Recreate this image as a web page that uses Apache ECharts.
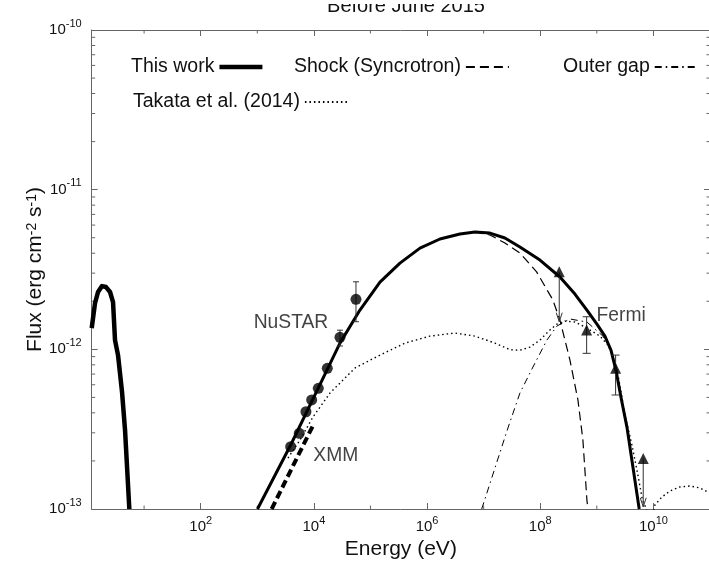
<!DOCTYPE html>
<html><head><meta charset="utf-8">
<script src="https://cdn.jsdelivr.net/npm/echarts@6/dist/echarts.min.js"></script>
<style>html,body{margin:0;padding:0;background:#fff}#c{width:709px;height:561px}</style>
</head><body><div id="c"></div>
<script>
// ---------- data (log10 of energy in eV, log10 of flux in erg cm^-2 s^-1) ----------
const titleText = 'Before June 2015';
const xLogMin = 0.074, xLogMax = 11;
const yLogMin = -13, yLogMax = -10;

// "This work" – low-energy component
const thisWorkLowLogE = [0.074, 0.133, 0.186, 0.256, 0.327, 0.398, 0.451, 0.486, 0.539, 0.610, 0.663, 0.739];
const thisWorkLowLogF = [-11.867, -11.710, -11.641, -11.604, -11.610, -11.641, -11.704, -11.942, -12.036, -12.267, -12.505, -13.000];
// "This work" – main component
const thisWorkLogE = [3.004, 3.590, 4.231, 4.461, 4.814, 5.168, 5.521, 5.875, 6.228, 6.581, 6.846, 7.111, 7.376, 7.641, 7.995, 8.348, 8.613, 8.825, 9.002, 9.143, 9.249, 9.337, 9.426, 9.532, 9.638, 9.749];
const thisWorkLogF = [-13.000, -12.599, -12.130, -11.961, -11.754, -11.579, -11.460, -11.366, -11.309, -11.278, -11.265, -11.272, -11.303, -11.359, -11.441, -11.547, -11.654, -11.754, -11.842, -11.917, -12.004, -12.130, -12.299, -12.487, -12.737, -13.000];
// Shock (synchrotron)
const shockLogE = [6.581, 6.846, 7.111, 7.376, 7.641, 7.936, 8.224, 8.348, 8.525, 8.666, 8.754, 8.825, 8.843];
const shockLogF = [-11.278, -11.265, -11.284, -11.334, -11.397, -11.515, -11.691, -11.817, -12.067, -12.317, -12.568, -12.944, -13.000];
// Outer gap
const outerGapLogE = [6.966, 7.200, 7.429, 7.641, 7.871, 8.118, 8.295, 8.525, 8.825, 9.108, 9.249, 9.337, 9.426, 9.532, 9.638, 9.746];
const outerGapLogF = [-13.000, -12.743, -12.493, -12.274, -12.111, -11.942, -11.854, -11.810, -11.829, -11.917, -12.004, -12.130, -12.299, -12.487, -12.737, -13.000];
// Takata et al. (2014)
const takataLogE = [3.542, 3.754, 3.984, 4.284, 4.726, 5.168, 5.610, 6.051, 6.493, 6.846, 7.200, 7.465, 7.641, 7.818, 7.995, 8.171, 8.295, 8.436, 8.613, 8.825, 9.055, 9.196, 9.302, 9.391, 9.497, 9.620, 9.726, 9.806, 9.876, 9.920, 10.027, 10.150, 10.292, 10.468, 10.645, 10.822, 10.998];
const takataLogF = [-12.681, -12.568, -12.424, -12.274, -12.117, -12.036, -11.961, -11.917, -11.898, -11.917, -11.961, -12.002, -12.006, -11.986, -11.942, -11.879, -11.842, -11.823, -11.829, -11.867, -11.917, -11.973, -12.055, -12.192, -12.411, -12.599, -12.787, -12.944, -13.000, -13.130, -12.975, -12.925, -12.887, -12.862, -12.856, -12.868, -12.900];
// XMM spectrum (thick dashed)
const xmmLineLogE = [3.254, 3.989];
const xmmLineLogF = [-13.000, -12.474];

// X-ray points (XMM / NuSTAR)
const xrayLogE = [3.590, 3.742, 3.860, 3.961, 4.078, 4.237, 4.461, 4.744];
const xrayLogF = [-12.610, -12.526, -12.391, -12.317, -12.244, -12.119, -11.925, -11.687];
const xrayErrLogE = [4.461, 4.744];
const xrayErrLo = [-11.979, -11.827];
const xrayErrHi = [-11.880, -11.577];

// Fermi points
const fermiLogE = [8.336, 8.820, 9.332, 9.820];
const fermiLogF = [-11.514, -11.879, -12.119, -12.683];
const fermiErrLogE = [8.820, 9.332];
const fermiErrLo = [-12.025, -12.286];
const fermiErrHi = [-11.796, -12.036];
// Fermi upper limits (arrow from value down to tip)
const ulLogE = [8.336, 9.820];
const ulFrom = [-11.514, -12.683];
const ulTo = [-11.827, -12.986];

// annotations
const noteText = ['NuSTAR', 'XMM', 'Fermi'];
const noteLogE = [3.595, 4.387, 9.431];
const noteLogF = [-11.835, -12.668, -11.791];

// axis minor ticks
const xMinorExp = [1, 3, 5, 7, 9];
const yDecades = [-13, -12, -11];
const yMinorMult = [2, 3, 4, 5, 6, 7, 8, 9];

// ---------- build ----------
const P = v => Math.pow(10, v);
const pairs = (xs, ys) => xs.map((x, i) => [P(x), P(ys[i])]);
const xMin = P(xLogMin), xMax = P(xLogMax), yMin = P(yLogMin), yMax = P(yLogMax);

const tickData = [];
xMinorExp.forEach(e => { tickData.push([P(e), yMin, 0]); tickData.push([P(e), yMax, 1]); });
yDecades.forEach(d => yMinorMult.forEach(m => {
  const v = m * P(d);
  tickData.push([xMin, v, 2]); tickData.push([xMax, v, 3]);
}));

const axisColor = '#666';
const FONT = "'Liberation Sans', Arial, Helvetica, sans-serif";

function supLabel(v) {
  const l = Math.log10(v);
  const e = Math.round(l);
  if (Math.abs(l - e) > 1e-6) return '';
  return '{b|10}{s|' + e + '}';
}
const richLab = {
  b: { fontSize: 15, lineHeight: 24, verticalAlign: 'middle', fontFamily: FONT, color: '#111' },
  s: { fontSize: 11, lineHeight: 11, verticalAlign: 'top', fontFamily: FONT, color: '#111' }
};

function xAxisCfg(pos, showLabel) {
  return {
    type: 'log', logBase: 100, position: pos, min: xMin, max: xMax,
    axisLine: { show: true, lineStyle: { color: axisColor, width: 1 } },
    axisTick: { show: true, inside: true, length: 6, lineStyle: { color: axisColor } },
    splitLine: { show: false }, minorTick: { show: false },
    axisLabel: showLabel ? {
      show: true, margin: 6, formatter: supLabel, rich: richLab,
      showMinLabel: false, showMaxLabel: false, hideOverlap: false
    } : { show: false },
    name: showLabel ? 'Energy (eV)' : '',
    nameLocation: 'middle', nameGap: 30, nameMoveOverlap: false,
    nameTextStyle: { fontSize: 21, fontFamily: FONT, color: '#111' }
  };
}
function yAxisCfg(pos, showLabel) {
  return {
    type: 'log', logBase: 10, position: pos, min: yMin, max: yMax,
    axisLine: { show: true, lineStyle: { color: axisColor, width: 1 } },
    axisTick: { show: true, inside: true, length: 6, lineStyle: { color: axisColor } },
    splitLine: { show: false }, minorTick: { show: false },
    axisLabel: showLabel ? {
      show: true, margin: 10, formatter: supLabel, rich: richLab, hideOverlap: false
    } : { show: false },
    name: showLabel ? 'Flux (erg cm{s|-2} s{s|-1})' : '',
    nameLocation: 'middle', nameGap: 46, nameRotate: 90, nameMoveOverlap: false,
    nameTextStyle: {
      fontSize: 21, fontFamily: FONT, color: '#111',
      rich: { s: { fontSize: 14, verticalAlign: 'top', lineHeight: 14, fontFamily: FONT, color: '#111' } }
    }
  };
}

function lineSeries(name, data, style, z) {
  return {
    type: 'line', name: name, data: data, symbol: 'none', smooth: false, clip: true,
    lineStyle: Object.assign({ color: '#000', cap: 'butt', join: 'round' }, style),
    itemStyle: { color: '#000' }, z: z, silent: true, animation: false
  };
}

const errRender = (capW) => function (params, api) {
  const x = api.value(0);
  const lo = api.coord([x, api.value(1)]);
  const hi = api.coord([x, api.value(2)]);
  const st = { stroke: '#333', lineWidth: 1 };
  return { type: 'group', children: [
    { type: 'line', shape: { x1: lo[0], y1: lo[1], x2: hi[0], y2: hi[1] }, style: st },
    { type: 'line', shape: { x1: lo[0] - capW, y1: lo[1], x2: lo[0] + capW, y2: lo[1] }, style: st },
    { type: 'line', shape: { x1: hi[0] - capW, y1: hi[1], x2: hi[0] + capW, y2: hi[1] }, style: st }
  ]};
};

const legendCommon = {
  orient: 'horizontal', align: 'right', itemWidth: 43, itemHeight: 14,
  textStyle: { fontSize: 19.5, fontFamily: FONT, color: '#111' },
  itemStyle: { opacity: 0 }, inactiveColor: '#000', selectedMode: false
};

const option = {
  animation: false,
  backgroundColor: '#fff',
  title: {
    text: titleText, left: 401, textAlign: 'center', top: -9, z: 1,
    textStyle: { fontSize: 20, fontWeight: 'normal', fontFamily: FONT, color: '#111' }
  },
  graphic: [{
    type: 'rect', left: 0, top: 0, z: 100,
    shape: { width: 709, height: 4 }, style: { fill: '#fff' }, silent: true
  }],
  grid: { left: 91.7, top: 30, right: -1, bottom: 52, containLabel: false, outerBoundsMode: 'none' },
  legend: [
    Object.assign({}, legendCommon, { data: ['This work'], left: 126, top: 52, lineStyle: { width: 4.5 } }),
    Object.assign({}, legendCommon, { data: ['Shock (Syncrotron)'], left: 289, top: 52 }),
    Object.assign({}, legendCommon, { data: ['Outer gap'], left: 558, top: 52 }),
    Object.assign({}, legendCommon, { data: ['Takata et al. (2014)'], left: 128, top: 87 })
  ],
  xAxis: [xAxisCfg('bottom', true), xAxisCfg('top', false)],
  yAxis: [yAxisCfg('left', true), yAxisCfg('right', false)],
  series: [
    lineSeries('Takata et al. (2014)', pairs(takataLogE, takataLogF), { width: 1.4, type: [1.5, 3] }, 2),
    lineSeries('Outer gap', pairs(outerGapLogE, outerGapLogF), { width: 1, type: [7, 4, 1.5, 4] }, 3),
    lineSeries('Shock (Syncrotron)', pairs(shockLogE, shockLogF), { width: 1.2, type: [9, 5] }, 3),
    lineSeries('XMM spectrum', pairs(xmmLineLogE, xmmLineLogF), { width: 4, type: [8, 4] }, 4),
    lineSeries('This work', pairs(thisWorkLogE, thisWorkLogF), { width: 3 }, 5),
    lineSeries('This work', pairs(thisWorkLowLogE, thisWorkLowLogF), { width: 4.5 }, 5),
    {
      type: 'custom', name: 'xray err', renderItem: errRender(3), z: 6, silent: true,
      data: xrayErrLogE.map((e, i) => [P(e), P(xrayErrLo[i]), P(xrayErrHi[i])]),
      encode: { x: 0, y: [1, 2] }
    },
    {
      type: 'custom', name: 'fermi err', renderItem: errRender(4), z: 6, silent: true,
      data: fermiErrLogE.map((e, i) => [P(e), P(fermiErrLo[i]), P(fermiErrHi[i])]),
      encode: { x: 0, y: [1, 2] }
    },
    {
      type: 'custom', name: 'fermi UL', z: 6, silent: true,
      data: ulLogE.map((e, i) => [P(e), P(ulFrom[i]), P(ulTo[i])]),
      encode: { x: 0, y: [1, 2] },
      renderItem: function (params, api) {
        const x = api.value(0);
        const a = api.coord([x, api.value(1)]);
        const b = api.coord([x, api.value(2)]);
        const st = { stroke: '#333', lineWidth: 1, fill: null };
        return { type: 'group', children: [
          { type: 'line', shape: { x1: a[0], y1: a[1], x2: b[0], y2: b[1] }, style: st },
          { type: 'polyline', shape: { points: [[b[0] - 3, b[1] - 9], [b[0], b[1]], [b[0] + 3, b[1] - 9]] }, style: st }
        ]};
      }
    },
    {
      type: 'scatter', name: 'X-ray data', symbol: 'circle', symbolSize: 11, z: 7, silent: true,
      itemStyle: { color: '#000' }, data: pairs(xrayLogE, xrayLogF)
    },
    {
      type: 'scatter', name: 'Fermi data', symbol: 'triangle', symbolSize: [11, 11], z: 7, silent: true,
      itemStyle: { color: '#000' }, data: pairs(fermiLogE, fermiLogF)
    },
    {
      type: 'scatter', name: 'notes', symbolSize: 0, z: 8, silent: true,
      data: noteText.map((t, i) => ({ name: t, value: [P(noteLogE[i]), P(noteLogF[i])] })),
      label: { show: true, position: 'inside', formatter: '{b}', fontSize: 19.3, fontFamily: FONT, color: '#111' }
    },
    {
      type: 'custom', name: 'minor ticks', z: 1, silent: true, data: tickData,
      encode: { x: 0, y: 1 },
      renderItem: function (params, api) {
        const side = api.value(2);
        const p = api.coord([api.value(0), api.value(1)]);
        const L = 3.5;
        let x2 = p[0], y2 = p[1];
        if (side === 0) y2 -= L; else if (side === 1) y2 += L; else if (side === 2) x2 += L; else x2 -= L;
        return { type: 'line', shape: { x1: p[0], y1: p[1], x2: x2, y2: y2 }, style: { stroke: axisColor, lineWidth: 1 } };
      }
    }
  ]
};

const chart = echarts.init(document.getElementById('c'), null, { renderer: 'canvas' });
chart.setOption(option);
</script>
</body></html>
